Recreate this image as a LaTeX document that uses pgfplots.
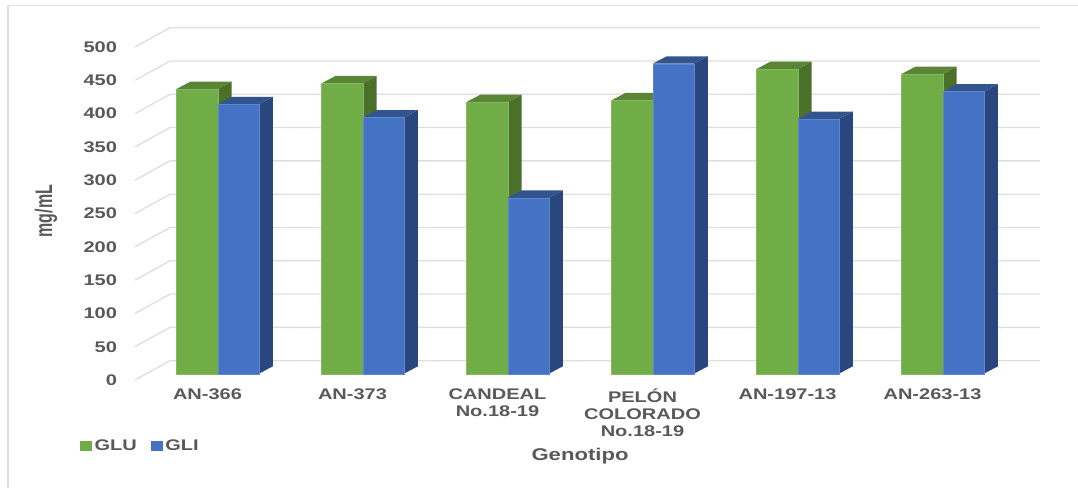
\documentclass[border=0pt]{standalone}
\usepackage{fontspec}
\setmainfont[FakeStretch=1.3]{Liberation Sans}
\newfontfamily\plainfont{Liberation Sans}
\usepackage{pgfplots}
\pgfplotsset{compat=1.18}

\definecolor{gluF}{HTML}{70AD47}
\definecolor{gluS}{HTML}{4B7029}
\definecolor{gluT}{HTML}{5A8534}
\definecolor{gliF}{HTML}{4472C4}
\definecolor{gliS}{HTML}{29477E}
\definecolor{gliT}{HTML}{32558F}
\definecolor{inktext}{HTML}{595959}
\definecolor{wallgrid}{HTML}{DEDEDE}

% Oblique projection: offsets in axis units
\newcommand{\wallx}{0.2414}
\newcommand{\wally}{29}
\newcommand{\barbase}{9.5}
\newcommand{\barw}{0.284}
\newcommand{\barshift}{0.0705}
\newcommand{\depx}{0.0966}
\newcommand{\depy}{11.1}

% #1 category, #2 0 = first or 1 = second of the pair, #3 value,
% #4 front colour, #5 top colour, #6 side colour
\newcommand{\prismbar}[6]{%
  \pgfmathsetmacro{\xa}{#1+\barshift+(#2-1)*\barw}%
  \pgfmathsetmacro{\xb}{\xa+\barw}%
  \pgfmathsetmacro{\xc}{\xb+\depx}%
  \pgfmathsetmacro{\xd}{\xa+\depx}%
  \pgfmathsetmacro{\ya}{\barbase}%
  \pgfmathsetmacro{\yb}{\barbase+#3}%
  \pgfmathsetmacro{\yc}{\yb+\depy}%
  \pgfmathsetmacro{\yd}{\ya+\depy}%
  \addplot[forget plot,fill=#6,draw=none] coordinates {(\xb,\ya)(\xc,\yd)(\xc,\yc)(\xb,\yb)} -- cycle;
  \addplot[forget plot,fill=#5,draw=none] coordinates {(\xa,\yb)(\xd,\yc)(\xc,\yc)(\xb,\yb)} -- cycle;
  \addplot[forget plot,fill=#4,draw=#4!85!white,line width=0.3pt] coordinates {(\xa,\ya)(\xb,\ya)(\xb,\yb)(\xa,\yb)} -- cycle;
}

\begin{document}
\begin{tikzpicture}
\useasboundingbox (-135pt,-108pt) rectangle (943pt,380pt);
% outer chart frame
\draw[wallgrid,line width=1.3pt] (-127pt,-108pt) -- (-127pt,374.5pt) -- (943pt,374.5pt);
\begin{axis}[
  at={(0pt,0pt)}, anchor=south west,
  scale only axis, width=870pt, height=333pt,
  xmin=0.5, xmax=6.5, ymin=0, ymax=500,
  clip=false,
  axis line style={draw=none},
  tick style={draw=none},
  major tick length=0pt,
  xtick={1,2,3,4,5,6},
  xticklabels={AN-366,AN-373,{CANDEAL\\No.18-19},{PELÓN\\COLORADO\\No.18-19},AN-197-13,AN-263-13},
  ytick={0,50,...,500},
  /pgf/number format/assume math mode=true,
  tick label style={font=\fontsize{15.4}{17}\selectfont\bfseries,text=inktext},
  x tick label style={align=center,anchor=north,yshift=-5pt},
  y tick label style={anchor=east,xshift=-14.5pt},
  xlabel={Genotipo},
  xlabel style={at={(axis description cs:0.5115,-0.2282)},anchor=center,font=\fontsize{17}{18}\selectfont\bfseries,text=inktext},
  ylabel={\scalebox{1}[1.5]{\plainfont\bfseries mg/mL}},
  ylabel style={at={(axis description cs:-0.1023,0.5075)},anchor=center,font=\fontsize{16}{18}\selectfont,text=inktext},
  legend columns=2,
  legend style={at={(axis description cs:-0.0632,-0.198)},anchor=west,draw=none,fill=none,inner sep=0pt,
    font=\fontsize{15.4}{17}\selectfont\bfseries,text=inktext,
    /tikz/every odd column/.append style={column sep=1pt},
    /tikz/every even column/.append style={column sep=12pt}},
  legend image code/.code={\fill[#1] (0pt,-4.5pt) rectangle (11pt,4.5pt);},
  legend entries={GLU,GLI},
]
\addlegendimage{gluF}
\addlegendimage{gliF}

% gridlines on the side wall and the back wall
\pgfplotsinvokeforeach{0,50,...,500}{%
  \pgfmathsetmacro{\gy}{#1+\wally}%
  \pgfmathsetmacro{\gxa}{0.5+\wallx}%
  \pgfmathsetmacro{\gxb}{6.5+\wallx}%
  \addplot[forget plot,wallgrid,line width=1.3pt] coordinates {(0.5,#1)(\gxa,\gy)(\gxb,\gy)};
}

% GLU, GLI per genotype
\prismbar{1}{0}{427.5}{gluF}{gluT}{gluS}
\prismbar{1}{1}{404.5}{gliF}{gliT}{gliS}
\prismbar{2}{0}{436}{gluF}{gluT}{gluS}
\prismbar{2}{1}{384.5}{gliF}{gliT}{gliS}
\prismbar{3}{0}{408}{gluF}{gluT}{gluS}
\prismbar{3}{1}{264}{gliF}{gliT}{gliS}
\prismbar{4}{0}{410.5}{gluF}{gluT}{gluS}
\prismbar{4}{1}{465.5}{gliF}{gliT}{gliS}
\prismbar{5}{0}{457.5}{gluF}{gluT}{gluS}
\prismbar{5}{1}{382.5}{gliF}{gliT}{gliS}
\prismbar{6}{0}{450}{gluF}{gluT}{gluS}
\prismbar{6}{1}{423.5}{gliF}{gliT}{gliS}
\end{axis}
\end{tikzpicture}
\end{document}
